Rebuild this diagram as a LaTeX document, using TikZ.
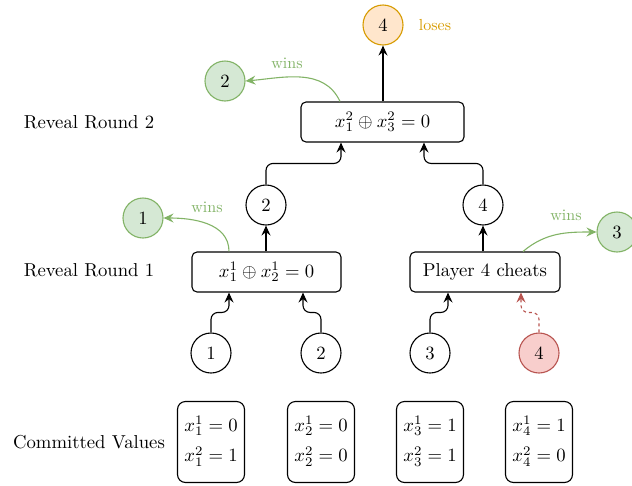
\documentclass[tikz,border=0pt]{standalone}
\usetikzlibrary{arrows.meta}
\definecolor{gfill}{HTML}{D5E8D4}
\definecolor{gdraw}{HTML}{82B366}
\definecolor{ofill}{HTML}{FFE6CC}
\definecolor{odraw}{HTML}{D79B00}
\definecolor{rfill}{HTML}{F8CECC}
\definecolor{rdraw}{HTML}{B85450}
\newcommand{\BT}[1]{\scalebox{1.87}{#1}}
\newcommand{\ST}[1]{\scalebox{1.6}{#1}}
\begin{document}
\begin{tikzpicture}[x=1pt,y=-1pt,
  player/.style={circle,draw,line width=1.1pt,minimum size=40pt,inner sep=0pt},
  winner/.style={player,draw=gdraw,fill=gfill},
  loser/.style={player,draw=odraw,fill=ofill},
  cheater/.style={player,draw=rdraw,fill=rfill},
  check/.style={draw,line width=1.1pt,rounded corners=5pt,minimum height=40pt,inner sep=0pt},
  commit/.style={draw,line width=1.1pt,rounded corners=8pt,minimum width=67pt,minimum height=81pt,inner sep=0pt},
  rowlabel/.style={anchor=center,inner sep=0pt},
  conn/.style={draw,line width=1.1pt,rounded corners=7pt,-{Stealth[length=10pt,width=9pt,inset=3.5pt]}},
  winarrow/.style={draw=gdraw,line width=1.1pt,-{Stealth[length=10pt,width=9pt,inset=3.5pt]}},
  wintext/.style={text=gdraw,inner sep=0pt},
]
\useasboundingbox (0,0) rectangle (632,485);

% row labels
\node[rowlabel] (lr2) at (89,122) {\BT{Reveal Round 2}};
\node[rowlabel] (lr1) at (89,270) {\BT{Reveal Round 1}};
\node[rowlabel] (lcv) at (89,442) {\BT{Committed Values}};

% check boxes
\node[check,minimum width=163pt] (r2) at (382.5,122) {\BT{$x_1^2\oplus x_3^2=0$}};
\node[check,minimum width=149pt] (r1) at (266.5,272) {\BT{$x_1^1\oplus x_2^1=0$}};
\node[check,minimum width=150pt] (r1b) at (485,272) {\BT{Player 4 cheats}};

% players
\node[loser] (top) at (383,25) {\BT{4}};
\node[text=odraw,inner sep=0pt] (loses) at (435,25) {\ST{loses}};
\node[winner] (w2) at (225,81) {\BT{2}};
\node[winner] (w1) at (143,218) {\BT{1}};
\node[winner] (w3) at (617,232) {\BT{3}};
\node[player] (m2) at (266,205) {\BT{2}};
\node[player] (m4) at (483,205) {\BT{4}};
\node[player] (b1) at (211,353) {\BT{1}};
\node[player] (b2) at (321,353) {\BT{2}};
\node[player] (b3) at (430,353) {\BT{3}};
\node[cheater] (b4) at (539,353) {\BT{4}};

% committed values
\node[commit] (c1) at (211,442) {\BT{$\begin{array}{@{}l@{}}x_1^1=0\\[4.5pt]x_1^2=1\end{array}$}};
\node[commit] (c2) at (321,442) {\BT{$\begin{array}{@{}l@{}}x_2^1=0\\[4.5pt]x_2^2=0\end{array}$}};
\node[commit] (c3) at (430,442) {\BT{$\begin{array}{@{}l@{}}x_3^1=1\\[4.5pt]x_3^2=1\end{array}$}};
\node[commit] (c4) at (539,442) {\BT{$\begin{array}{@{}l@{}}x_4^1=1\\[4.5pt]x_4^2=0\end{array}$}};

% connectors bottom to round 1
\path[conn] (b1.north) -- ++(0,-20) -| ([xshift=-37.5pt]r1.south);
\path[conn] (b2.north) -- ++(0,-20) -| ([xshift=36.5pt]r1.south);
\path[conn] (b3.north) -- ++(0,-20) -| ([xshift=-37pt]r1b.south);
\path[conn,draw=rdraw,dashed] (b4.north) -- ++(0,-20) -| ([xshift=36pt]r1b.south);

% round 1 to middle
\path[conn] ([xshift=-0.5pt]r1.north) -- (m2.south);
\path[conn] ([xshift=-2pt]r1b.north) -- (m4.south);

% middle to round 2
\path[conn] (m2.north) -- ++(0,-21) -| ([xshift=-41.5pt]r2.south);
\path[conn] (m4.north) -- ++(0,-21) -| ([xshift=41.5pt]r2.south);

% round 2 to top
\path[conn] ([xshift=0.5pt]r2.north) -- (top.south);

% wins arrows
\path[winarrow] ([xshift=-42.5pt]r2.north) to[out=115,in=5] (w2.east);
\node[wintext] (t2) at (287,63) {\ST{wins}};
\path[winarrow] ([xshift=-37.5pt]r1.north) to[out=90,in=0] (w1.east);
\node[wintext] (t1) at (207,207) {\ST{wins}};
\path[winarrow] ([xshift=38pt]r1b.north) to[out=40,in=180] (w3.west);
\node[wintext] (t3) at (566,215) {\ST{wins}};
\end{tikzpicture}
\end{document}
